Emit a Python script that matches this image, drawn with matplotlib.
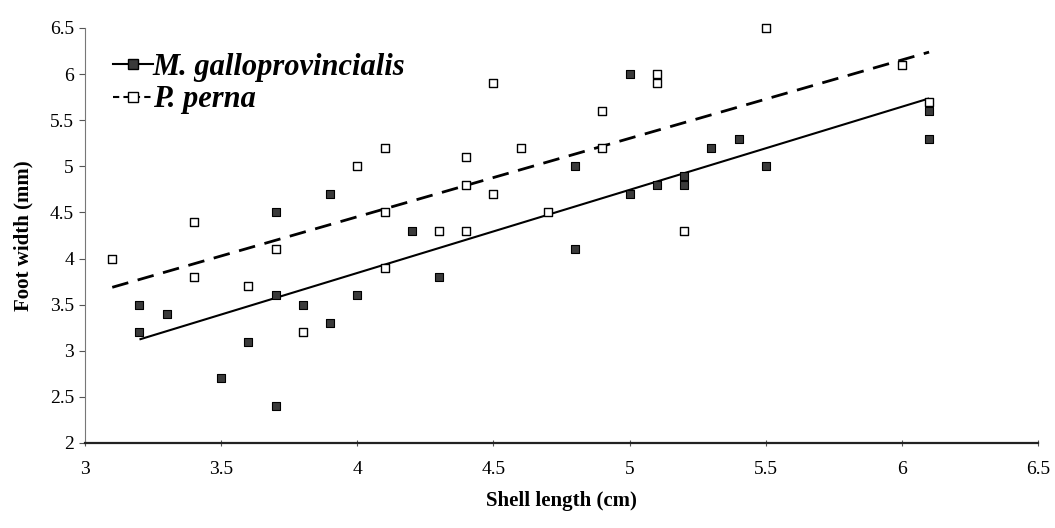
import numpy as np
import matplotlib
matplotlib.use("Agg")
import matplotlib.pyplot as plt
from matplotlib.lines import Line2D

# Shell length (cm) and foot width (mm) for each mussel species
gallo_length = [3.2, 3.2, 3.3, 3.5, 3.6, 3.7, 3.7, 3.7, 3.8, 3.9, 3.9, 4.0, 4.2,
                4.3, 4.8, 4.8, 5.0, 5.0, 5.1, 5.2, 5.2, 5.3, 5.4, 5.5, 6.1, 6.1]
gallo_width = [3.5, 3.2, 3.4, 2.7, 3.1, 4.5, 3.6, 2.4, 3.5, 4.7, 3.3, 3.6, 4.3,
               3.8, 5.0, 4.1, 6.0, 4.7, 4.8, 4.9, 4.8, 5.2, 5.3, 5.0, 5.6, 5.3]

perna_length = [3.1, 3.4, 3.4, 3.6, 3.7, 3.8, 4.0, 4.1, 4.1, 4.1, 4.3, 4.4, 4.4,
                4.4, 4.5, 4.5, 4.6, 4.7, 4.9, 4.9, 5.1, 5.1, 5.2, 5.5, 6.0, 6.1]
perna_width = [4.0, 4.4, 3.8, 3.7, 4.1, 3.2, 5.0, 5.2, 4.5, 3.9, 4.3, 5.1, 4.8,
               4.3, 5.9, 4.7, 5.2, 4.5, 5.6, 5.2, 6.0, 5.9, 4.3, 6.5, 6.1, 5.7]

x_ticks = [3, 3.5, 4, 4.5, 5, 5.5, 6, 6.5]
y_ticks = [2, 2.5, 3, 3.5, 4, 4.5, 5, 5.5, 6, 6.5]
x_tick_labels = ["3", "3.5", "4", "4.5", "5", "5.5", "6", "6.5"]
y_tick_labels = ["2", "2.5", "3", "3.5", "4", "4.5", "5", "5.5", "6", "6.5"]

plt.rcParams["font.family"] = ["Liberation Serif", "DejaVu Serif"]

fig = plt.figure(figsize=(10.55, 5.28), dpi=100)
ax = fig.add_axes([0.0806, 0.161, 0.9033, 0.786])

# Linear trend lines spanning each species' size range
def trend(xs, ys):
    xs = np.asarray(xs)
    ys = np.asarray(ys)
    slope, intercept = np.polyfit(xs, ys, 1)
    xx = np.array([xs.min(), xs.max()])
    return xx, slope * xx + intercept

gx, gy = trend(gallo_length, gallo_width)
px, py = trend(perna_length, perna_width)
ax.plot(gx, gy, color="black", lw=1.5, solid_capstyle="butt", zorder=2)
ax.plot(px, py, color="black", lw=2.0, dashes=(6, 3.5), zorder=2)

ax.scatter(gallo_length, gallo_width, marker="s", s=30, facecolor="#3a3a3a",
           edgecolor="black", linewidths=0.8, zorder=3, clip_on=False)
ax.scatter(perna_length, perna_width, marker="s", s=30, facecolor="white",
           edgecolor="black", linewidths=1.0, zorder=3, clip_on=False)

ax.set_xlim(3, 6.5)
ax.set_ylim(2, 6.5)
ax.set_xticks(x_ticks)
ax.set_xticklabels(x_tick_labels)
ax.set_yticks(y_ticks)
ax.set_yticklabels(y_tick_labels)
ax.tick_params(axis="both", labelsize=14, length=4, width=0.8, color="#555555")
ax.tick_params(axis="x", direction="inout", pad=11)
ax.tick_params(axis="y", direction="out", pad=4)

for side in ("top", "right"):
    ax.spines[side].set_visible(False)
ax.spines["left"].set_color("#777777")
ax.spines["left"].set_linewidth(0.8)
ax.spines["bottom"].set_color("#222222")
ax.spines["bottom"].set_linewidth(1.6)

ax.set_xlabel("Shell length (cm)", fontsize=15, fontweight="bold", labelpad=9)
ax.set_ylabel("Foot width (mm)", fontsize=15, fontweight="bold", labelpad=12)

handles = [
    Line2D([0], [0], color="black", lw=1.5, marker="s", markersize=7,
           markerfacecolor="#3a3a3a", markeredgecolor="black"),
    Line2D([0], [0], color="black", lw=1.5, dashes=(3, 2), marker="s",
           markersize=7, markerfacecolor="white", markeredgecolor="black"),
]
ax.legend(handles, ["M. galloprovincialis", "P. perna"], loc="upper left",
          bbox_to_anchor=(0.01, 0.985), frameon=False, handlelength=1.3,
          handletextpad=0.0, labelspacing=0.12, borderaxespad=0.2,
          prop={"family": "Liberation Serif", "style": "italic",
                "weight": "bold", "size": 22})

fig.savefig("out.png", dpi=100, facecolor="white")
